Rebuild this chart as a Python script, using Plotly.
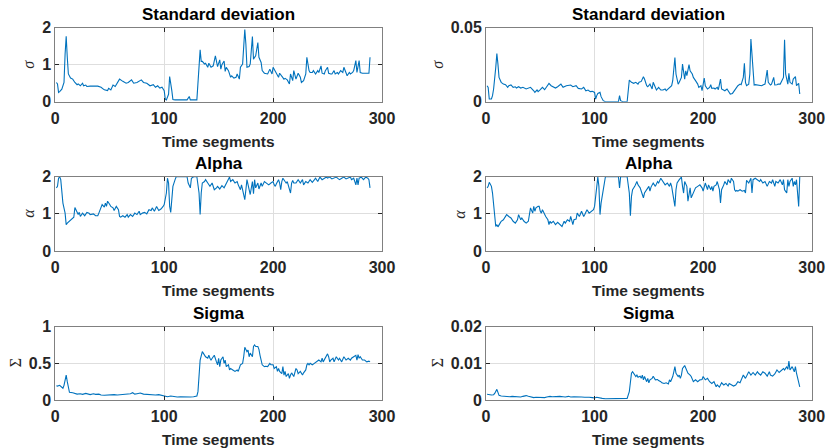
import plotly.graph_objects as go

# ---------------- data (time segment, value) ----------------
sd_left = [(1,0.52),(2,0.48),(3,0.25),(4,0.27),(6,0.34),(8,0.52),(9,1.29),(10,1.77),(11,1.2),(12,0.75),
 (14,0.64),(16,0.61),(18,0.52),(20,0.46),(21,0.48),(23,0.43),(25,0.5),(26,0.43),(28,0.45),(29,0.41),
 (32,0.42),(36,0.41),(39,0.42),(42,0.39),(45,0.32),(48,0.30),(49,0.36),(51,0.32),(53,0.45),(55,0.41),
 (57,0.5),(59,0.61),(62,0.55),(65,0.5),(67,0.52),(70,0.59),(72,0.5),(75,0.52),(79,0.59),(81,0.52),
 (84,0.5),(87,0.43),(90,0.46),(92,0.39),(94,0.43),(96,0.37),(98,0.39),(100,0.3),(101,0.07),(102,0.05),
 (104,0.2),(105,0.68),(107,0.3),(108,0.06),(110,0.05),(121,0.05),(123,0.14),(124,0.05),(130,0.05),(131,0.52),
 (133,1.40),(134,1.09),(135,1.09),(137,1.02),(138,1.04),(140,0.93),(141,1.04),(143,0.93),(145,0.97),(147,1.24),
 (148,1.04),(149,0.95),(151,1.13),(152,0.88),(153,1.0),(155,1.1),(156,0.82),(157,0.93),(159,0.84),(161,0.66),
 (162,0.7),(164,0.64),(166,0.66),(167,0.75),(169,0.61),(170,0.93),(172,1.02),(173,1.38),(174,1.95),(175,1.56),
 (176,0.93),(178,0.95),(179,1.02),(181,1.76),(182,1.15),(183,1.2),(184,1.24),(186,1.6),(187,1.2),(189,1.06),
 (190,0.84),(192,0.77),(193,0.77),(195,0.75),(197,0.88),(199,0.75),(200,0.93),(202,0.82),(203,0.79),(205,0.66),
 (206,0.77),(208,0.7),(210,0.61),(211,0.63),(213,0.59),(215,0.48),(216,0.75),(218,0.57),(219,0.84),(221,0.61),
 (223,0.77),(225,0.66),(226,0.52),(228,0.57),(230,0.75),(231,1.2),(233,0.84),(234,0.79),(236,0.79),(237,0.84),
 (239,0.75),(241,0.84),(242,0.79),(244,0.97),(245,0.77),(247,0.75),(248,0.84),(250,0.93),(251,0.77),(253,0.75),
 (254,0.75),(256,0.84),(257,0.75),(259,0.79),(260,0.75),(262,0.84),(264,0.79),(265,0.93),(267,0.75),(268,0.7),
 (270,0.79),(271,0.75),(273,0.79),(274,0.84),(276,1.11),(277,0.79),(279,1.11),(280,0.79),(282,0.77),(285,0.77),
 (287,0.75),(288,0.77),(289,1.2)]

sd_right = [(1,0.0108),(2,0.0097),(3,0.0018),(5,0.0018),(6,0.0041),(7,0.0086),(9,0.0232),(10,0.0326),(11,0.0254),
 (12,0.0164),(14,0.0131),(16,0.0119),(18,0.0115),(20,0.0097),(21,0.0108),(23,0.0113),(25,0.0097),(27,0.0101),
 (28,0.0092),(30,0.0101),(32,0.0092),(34,0.0097),(37,0.0086),(39,0.0092),(41,0.0097),(44,0.0074),(45,0.0063),
 (47,0.0079),(48,0.0068),(50,0.0081),(52,0.0097),(54,0.0081),(56,0.0101),(58,0.0124),(60,0.0108),(64,0.0092),
 (66,0.0101),(69,0.0119),(71,0.0097),(74,0.0108),(78,0.0113),(80,0.0101),(83,0.0108),(85,0.009),(88,0.0086),
 (90,0.0097),(92,0.0074),(94,0.0079),(96,0.0068),(98,0.007),(100,0.0063),(101,0.0018),(102,0.0041),(103,0.0056),
 (105,0.0063),(106,0.0034),(108,0.0007),(110,0.0),(122,0.0),(123,0.0041),(124,0.0007),(126,0.0),(130,0.0),
 (131,0.0097),(132,0.0146),(134,0.0131),(136,0.0124),(138,0.0131),(140,0.0119),(141,0.0131),(143,0.0137),
 (145,0.0169),(146,0.0153),(148,0.0108),(149,0.0101),(151,0.0119),(153,0.0086),(154,0.0131),(156,0.0097),
 (157,0.0079),(159,0.0097),(161,0.0079),(163,0.0079),(165,0.0086),(166,0.0074),(168,0.0086),(169,0.0097),
 (171,0.0108),(172,0.0142),(174,0.0299),(175,0.0187),(177,0.0119),(178,0.0131),(180,0.0164),(181,0.0254),
 (183,0.0153),(184,0.0209),(185,0.0176),(187,0.025),(188,0.0209),(190,0.0187),(191,0.0164),(193,0.0142),
 (195,0.0119),(196,0.0097),(198,0.0108),(199,0.0074),(201,0.016),(202,0.0108),(204,0.0086),(206,0.0097),
 (207,0.0115),(208,0.009),(210,0.0092),(211,0.0086),(213,0.0097),(214,0.0081),(216,0.0153),(217,0.0086),
 (219,0.0074),(220,0.0074),(222,0.0086),(224,0.0058),(225,0.0052),(227,0.0056),(229,0.0079),(231,0.0097),
 (232,0.0108),(234,0.0119),(235,0.0115),(237,0.0164),(238,0.0259),(239,0.0131),(240,0.0108),(242,0.0119),
 (243,0.0187),(244,0.0423),(246,0.0164),(247,0.0113),(248,0.0115),(250,0.0113),(252,0.0115),(254,0.0108),
 (255,0.0113),(257,0.0119),(259,0.0214),(260,0.0131),(262,0.0113),(263,0.0119),(265,0.0164),(266,0.0113),
 (268,0.0115),(269,0.0119),(271,0.0119),(272,0.0131),(274,0.0164),(275,0.0419),(276,0.0187),(278,0.0119),
 (279,0.0191),(280,0.0131),(282,0.0119),(283,0.0153),(285,0.0169),(286,0.0108),(288,0.0124),(289,0.0052)]

alpha_left = [(1,1.70),(2,1.74),(3,1.96),(4,2.0),(5,1.92),(6,1.56),(7,1.29),(9,1.02),(10,0.71),(11,0.75),
 (13,0.8),(15,0.84),(17,0.91),(18,1.17),(20,1.07),(21,0.98),(22,1.04),(23,0.93),(25,1.02),(27,0.95),
 (29,1.04),(31,1.02),(32,0.98),(35,1.0),(37,0.95),(39,0.95),(40,1.02),(42,1.16),(43,1.25),(45,1.18),
 (46,1.29),(47,1.2),(48,1.34),(50,1.25),(51,1.2),(53,1.16),(54,1.09),(56,1.2),(58,1.11),(59,0.93),
 (60,0.91),(62,0.95),(64,0.91),(66,0.98),(67,0.91),(69,0.98),(71,0.93),(73,1.02),(75,0.98),(77,1.07),
 (78,0.98),(80,1.02),(82,1.04),(84,1.0),(86,1.11),(88,1.09),(89,1.16),(91,1.07),(93,1.2),(95,1.09),
 (97,1.13),(99,1.2),(100,1.25),(102,1.56),(103,1.96),(104,1.83),(105,1.2),(106,1.04),(107,1.56),(108,1.74),
 (110,1.92),(111,2.0),(121,2.0),(122,1.83),(124,1.7),(125,1.96),(127,2.0),(130,2.0),(132,1.56),(133,0.98),
 (134,1.56),(135,1.83),(137,1.87),(138,1.92),(140,1.83),(142,1.74),(144,1.83),(146,1.65),(148,1.7),(149,1.74),
 (151,1.67),(153,1.76),(155,1.7),(157,1.81),(158,1.87),(160,1.99),(161,1.87),(163,1.92),(165,1.83),(167,1.87),
 (168,1.78),(170,1.65),(171,1.78),(173,1.56),(174,1.38),(175,1.65),(176,1.92),(178,1.65),(179,1.52),(181,1.87),
 (182,1.54),(183,1.92),(184,1.7),(186,1.83),(187,1.67),(189,1.83),(190,1.74),(192,1.87),(194,1.83),(196,1.78),
 (198,1.83),(200,1.87),(201,1.78),(202,1.74),(203,1.81),(205,1.92),(206,1.83),(207,1.65),(208,1.87),(209,1.96),
 (211,1.87),(212,1.83),(213,1.87),(214,1.74),(216,1.56),(217,1.83),(218,1.9),(219,1.83),(221,1.83),(223,1.92),
 (225,1.83),(227,1.92),(228,1.78),(230,1.87),(232,1.83),(234,1.92),(236,1.85),(238,1.92),(239,1.96),(241,1.87),
 (243,1.99),(245,1.92),(247,1.96),(249,1.99),(250,1.96),(252,1.99),(254,1.94),(256,1.96),(258,1.99),(260,1.94),
 (261,1.92),(263,1.96),(265,1.99),(267,1.94),(269,1.96),(271,1.99),(272,1.92),(274,1.96),(276,1.78),(277,1.96),
 (278,1.78),(279,1.96),(281,1.99),(283,1.92),(285,1.99),(287,1.96),(288,1.92),(289,1.7)]

alpha_right = [(1,1.7),(2,1.74),(3,1.85),(4,1.78),(5,1.74),(6,1.56),(7,1.29),(8,1.11),(9,0.66),(10,0.71),
 (11,0.65),(13,0.75),(14,0.8),(16,0.84),(18,0.93),(19,0.98),(21,0.93),(23,0.89),(25,0.8),(27,0.75),
 (29,0.84),(30,0.98),(32,0.84),(33,0.89),(35,0.8),(37,0.75),(39,0.8),(40,1.02),(41,1.16),(43,1.02),
 (44,1.2),(45,1.07),(46,1.16),(48,1.2),(49,1.2),(50,1.07),(51,1.02),(52,1.11),(54,0.98),(55,0.93),
 (57,0.84),(58,0.71),(59,0.8),(60,0.75),(62,0.8),(64,0.71),(66,0.77),(68,0.71),(70,0.66),(72,0.8),
 (73,0.75),(75,0.84),(77,0.8),(78,0.93),(80,0.71),(81,0.84),(83,0.86),(84,1.02),(86,0.93),(88,1.07),
 (90,0.93),(91,0.98),(93,1.11),(95,1.02),(97,1.07),(99,1.11),(100,1.2),(102,1.65),(103,1.99),(104,1.74),
 (105,0.98),(106,1.29),(108,1.65),(109,1.87),(110,2.0),(122,2.0),(123,1.7),(124,2.0),(130,2.0),(132,1.56),
 (133,0.95),(134,1.47),(135,1.65),(137,1.74),(138,1.83),(139,1.87),(140,1.78),(142,1.7),(144,1.52),(145,1.43),
 (146,1.56),(148,1.65),(150,1.74),(151,1.61),(152,1.72),(154,1.83),(156,1.74),(158,1.87),(159,1.83),(161,1.96),
 (163,1.87),(165,1.78),(167,1.83),(169,1.74),(170,1.83),(171,1.74),(172,1.56),(174,1.2),(175,1.65),(176,1.83),
 (178,1.92),(180,1.99),(181,1.74),(182,1.56),(183,1.87),(185,1.74),(186,1.34),(187,1.61),(188,1.7),(189,1.43),
 (191,1.56),(193,1.7),(195,1.74),(197,1.78),(199,1.7),(200,1.61),(202,1.83),(203,1.7),(204,1.65),(205,1.78),
 (207,1.65),(208,1.74),(209,1.61),(210,1.74),(212,1.78),(213,1.87),(215,1.65),(216,1.29),(217,1.65),(219,1.78),
 (220,1.87),(222,1.78),(223,1.92),(225,1.83),(226,1.96),(228,1.87),(229,1.65),(230,1.61),(231,1.63),(232,1.61),
 (234,1.65),(236,1.61),(238,1.63),(239,1.56),(240,1.9),(242,1.83),(244,1.96),(245,1.56),(246,1.92),(248,1.96),
 (250,1.92),(252,1.87),(253,1.92),(255,1.83),(257,1.87),(259,1.74),(261,1.87),(263,1.83),(264,1.92),(266,1.74),
 (267,1.87),(269,1.83),(271,1.92),(273,1.78),(274,1.92),(275,1.65),(277,1.56),(278,1.92),(279,1.74),(280,1.87),
 (282,1.96),(283,1.74),(284,1.87),(285,1.78),(286,1.92),(288,1.2),(289,2.0)]

sig_left = [(1,0.195),(2,0.19),(4,0.2),(6,0.18),(7,0.16),(8,0.2),(9,0.27),(10,0.34),(11,0.25),(12,0.14),
 (13,0.105),(16,0.1),(18,0.09),(20,0.08),(23,0.086),(25,0.077),(28,0.09),(30,0.08),(32,0.073),(35,0.086),
 (37,0.077),(40,0.08),(42,0.068),(45,0.064),(48,0.068),(51,0.064),(54,0.073),(57,0.068),(60,0.073),(63,0.08),
 (66,0.077),(69,0.086),(71,0.1),(73,0.08),(75,0.086),(78,0.095),(81,0.08),(83,0.077),(86,0.08),(89,0.073),
 (92,0.068),(95,0.073),(99,0.064),(101,0.055),(103,0.045),(106,0.055),(109,0.045),(112,0.041),(115,0.045),
 (118,0.041),(121,0.045),(124,0.041),(127,0.045),(130,0.055),(131,0.114),(132,0.32),(133,0.545),(135,0.66),
 (136,0.64),(138,0.59),(140,0.57),(141,0.61),(142,0.57),(143,0.545),(145,0.59),(146,0.61),(148,0.52),(149,0.48),
 (150,0.57),(151,0.455),(152,0.545),(154,0.59),(155,0.5),(156,0.545),(157,0.455),(159,0.48),(160,0.41),(161,0.43),
 (163,0.41),(165,0.39),(167,0.41),(168,0.39),(170,0.48),(172,0.5),(173,0.59),(174,0.72),(176,0.66),(177,0.68),
 (178,0.59),(179,0.64),(181,0.59),(182,0.73),(183,0.75),(184,0.73),(186,0.73),(187,0.69),(188,0.61),(189,0.545),
 (190,0.48),(192,0.455),(193,0.46),(195,0.455),(197,0.5),(198,0.48),(200,0.48),(201,0.43),(203,0.455),(204,0.39),
 (205,0.43),(206,0.39),(208,0.36),(209,0.455),(210,0.34),(211,0.39),(212,0.32),(214,0.36),(215,0.295),(216,0.34),
 (217,0.37),(219,0.32),(220,0.39),(221,0.43),(222,0.41),(223,0.36),(225,0.39),(226,0.36),(227,0.34),(228,0.37),
 (230,0.41),(231,0.48),(232,0.5),(233,0.48),(234,0.5),(236,0.48),(238,0.5),(240,0.52),(242,0.545),(244,0.52),
 (245,0.57),(246,0.52),(247,0.545),(249,0.59),(250,0.63),(251,0.59),(252,0.52),(253,0.545),(255,0.57),(256,0.52),
 (258,0.59),(260,0.545),(261,0.57),(263,0.52),(265,0.59),(267,0.545),(269,0.57),(271,0.545),(272,0.57),(274,0.59),
 (276,0.61),(277,0.545),(278,0.62),(279,0.57),(280,0.59),(282,0.545),(284,0.545),(286,0.52),(288,0.53),(289,0.52)]

sig_right = [(1,0.00155),(2,0.00145),(3,0.00155),(5,0.00136),(7,0.00145),(8,0.0018),(10,0.0029),(11,0.0018),
 (12,0.00127),(14,0.0011),(17,0.001),(19,0.0011),(22,0.0009),(24,0.001),(27,0.0009),(29,0.001),(32,0.00082),
 (34,0.001),(37,0.0012),(39,0.001),(41,0.00082),(44,0.00064),(46,0.00073),(49,0.00064),(51,0.00073),(54,0.00064),
 (56,0.00082),(59,0.001),(61,0.0009),(64,0.001),(66,0.0009),(68,0.001),(71,0.0009),(73,0.00082),(76,0.001),
 (78,0.00082),(81,0.0009),(83,0.00082),(86,0.00073),(88,0.00082),(91,0.00073),(93,0.00064),(95,0.00073),
 (98,0.00064),(100,0.00055),(102,0.00073),(104,0.00055),(107,0.00045),(110,0.00036),(128,0.00036),(130,0.00045),
 (132,0.0023),(133,0.0055),(134,0.0073),(135,0.0077),(137,0.0068),(138,0.0064),(139,0.0068),(140,0.0062),
 (142,0.0065),(143,0.0059),(144,0.0068),(145,0.0055),(146,0.0064),(148,0.005),(149,0.0059),(150,0.0047),
 (151,0.0055),(153,0.0059),(154,0.0065),(155,0.0059),(156,0.0055),(158,0.0056),(159,0.0053),(161,0.005),
 (162,0.0047),(164,0.0045),(166,0.0047),(168,0.0044),(169,0.0055),(170,0.005),(172,0.0064),(173,0.0077),
 (174,0.0091),(175,0.0073),(177,0.0064),(178,0.0068),(179,0.0059),(180,0.0068),(181,0.0086),(183,0.0094),
 (184,0.0086),(185,0.0077),(186,0.0073),(188,0.0068),(189,0.0064),(191,0.005),(193,0.0055),(195,0.005),
 (197,0.0055),(199,0.0056),(200,0.0064),(202,0.0055),(204,0.0059),(206,0.005),(208,0.0045),(210,0.005),
 (212,0.0036),(213,0.0041),(215,0.0035),(217,0.0047),(219,0.0041),(221,0.0045),(223,0.0038),(224,0.0045),
 (226,0.0041),(228,0.0038),(230,0.0041),(232,0.005),(234,0.0047),(235,0.0055),(237,0.0068),(239,0.0059),
 (240,0.0065),(242,0.0077),(244,0.0068),(246,0.0075),(248,0.0068),(250,0.0077),(251,0.0073),(253,0.0068),
 (255,0.0077),(257,0.0073),(259,0.0065),(261,0.0077),(262,0.0068),(264,0.0065),(266,0.0071),(268,0.0082),
 (270,0.0075),(272,0.0082),(274,0.0086),(275,0.0082),(277,0.0091),(278,0.0084),(279,0.0106),(280,0.0082),
 (282,0.0091),(284,0.0077),(285,0.0091),(286,0.0073),(288,0.0041),(289,0.0036)]

titles = ["Standard deviation", "Standard deviation", "Alpha", "Alpha", "Sigma", "Sigma"]
ylabels = ["σ", "σ", "α", "α", "Σ", "Σ"]
x_ticks = [0, 100, 200, 300]
y_ticks = [[0, 1, 2], [0, 0.05], [0, 1, 2], [0, 1, 2], [0, 0.5, 1], [0, 0.01, 0.02]]
y_ticktext = [["0", "1", "2"], ["0", "0.05"], ["0", "1", "2"], ["0", "1", "2"],
              ["0", "0.5", "1"], ["0", "0.01", "0.02"]]
y_ranges = [[0, 2], [0, 0.05], [0, 2], [0, 2], [0, 1], [0, 0.02]]
x_label = "Time segments"

series = [sd_left, sd_right, alpha_left, alpha_right, sig_left, sig_right]

# ---------------- layout geometry (pixels) ----------------
W, H = 827, 448
cols_px = [(55.3, 382.0), (486.0, 811.7)]
rows_px = [(27.7, 101.7), (176.7, 251.0), (326.7, 400.0)]
ylabel_x_px = [29, 438, 29, 460, 15, 437]

FONT = "Liberation Sans, Arial, sans-serif"
BLUE = "#0072BD"
TXT = "#262626"
BOX = "#808080"
GRID = "#dedede"

fig = go.Figure()
annotations = []
layout = dict(template="none", width=W, height=H, margin=dict(l=0, r=0, t=0, b=0, pad=0),
              paper_bgcolor="white", plot_bgcolor="white", showlegend=False)

for i, data in enumerate(series):
    r, c = divmod(i, 2)
    n = i + 1
    xs = [p[0] for p in data]
    ys = [p[1] for p in data]
    fig.add_trace(go.Scatter(x=xs, y=ys, mode="lines",
                             line=dict(color=BLUE, width=1.1),
                             xaxis=f"x{n}", yaxis=f"y{n}", hoverinfo="skip"))
    x0, x1 = cols_px[c]
    y0, y1 = rows_px[r]
    xd = [x0 / W, x1 / W]
    yd = [1 - y1 / H, 1 - y0 / H]
    common = dict(showline=True, linecolor=BOX, linewidth=1, mirror="ticks",
                  ticks="inside", ticklen=4, tickcolor=TXT, tickwidth=1,
                  showgrid=True, gridcolor=GRID, gridwidth=1, zeroline=False,
                  automargin=False,
                  tickfont=dict(family=FONT, size=16, color=TXT, weight="bold"))
    layout[f"xaxis{n}"] = dict(domain=xd, range=[0, 300], tickvals=x_ticks,
                               anchor=f"y{n}", ticklabelstandoff=2, **common)
    layout[f"yaxis{n}"] = dict(domain=yd, range=y_ranges[i], tickvals=y_ticks[i],
                               ticktext=y_ticktext[i], anchor=f"x{n}", **common)
    xc = (x0 + x1) / 2 / W
    annotations.append(dict(text=titles[i], xref="paper", yref="paper", x=xc,
                            y=1 - (y0 - 13.2) / H, xanchor="center", yanchor="middle",
                            showarrow=False,
                            font=dict(family=FONT, size=17, color="#000000", weight="bold")))
    annotations.append(dict(text=x_label, xref="paper", yref="paper", x=xc,
                            y=1 - (y1 + 39.5) / H, xanchor="center", yanchor="middle",
                            showarrow=False,
                            font=dict(family=FONT, size=15.5, color=TXT, weight="bold")))
    annotations.append(dict(text=ylabels[i], xref="paper", yref="paper",
                            x=ylabel_x_px[i] / W, y=1 - (y0 + y1) / 2 / H,
                            xanchor="center", yanchor="middle", textangle=-90,
                            showarrow=False,
                            font=dict(family="Liberation Serif, Times New Roman, serif",
                                      size=16, color=TXT,
                                      style="italic" if ylabels[i] != "Σ" else "normal")))

layout["annotations"] = annotations
fig.update_layout(**layout)
fig.write_html("out.html", config={"displayModeBar": False, "staticPlot": True},
               post_script="document.body.style.margin='0';document.body.style.overflow='hidden';")
